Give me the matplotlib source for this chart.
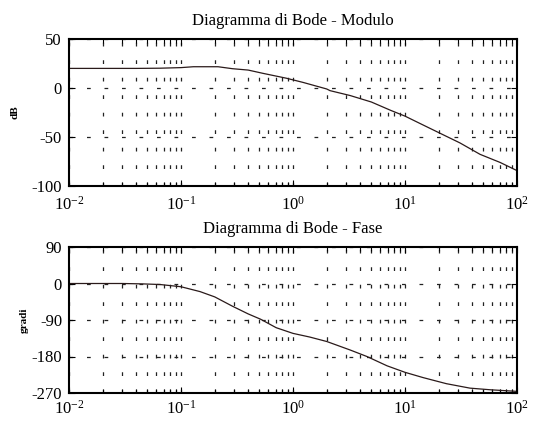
import numpy as np
import matplotlib
matplotlib.use("Agg")
import matplotlib.pyplot as plt
from matplotlib.ticker import LogLocator, FixedLocator, NullFormatter

plt.rcParams['font.family'] = ['Liberation Serif', 'DejaVu Serif']
plt.rcParams['mathtext.fontset'] = 'custom'
plt.rcParams['mathtext.rm'] = 'Liberation Serif'
plt.rcParams['mathtext.it'] = 'Liberation Serif'

# Magnitude data (frequency, dB)
mag_freq = [0.01, 0.02, 0.04, 0.065, 0.1, 0.129, 0.214, 0.288, 0.398, 0.537,
            0.871, 1.23, 2.0, 2.14, 3.24, 5.01, 7.41, 10.0, 13.5, 20.4,
            30.9, 46.8, 70.8, 100.0]
mag_db = [20.0, 20.0, 20.0, 20.2, 20.8, 21.7, 21.7, 19.7, 18.3, 15.0,
          10.0, 5.7, -1.0, -2.7, -7.7, -14.3, -22.7, -28.7, -36.0, -46.0,
          -56.0, -67.7, -76.0, -84.3]

# Phase data (frequency, degrees)
ph_freq = [0.01, 0.02, 0.03, 0.046, 0.065, 0.1, 0.148, 0.2, 0.288, 0.398,
           0.513, 0.708, 1.0, 1.41, 2.0, 3.24, 4.57, 6.92, 10.0, 14.5,
           23.4, 38.0, 57.5, 100.0]
ph_deg = [0.0, 0.0, 0.0, -1.0, -2.5, -8.0, -20.0, -33.0, -56.0, -75.0,
          -88.0, -109.0, -123.0, -132.0, -143.0, -164.0, -180.0, -203.0,
          -219.0, -232.0, -247.0, -258.0, -262.0, -266.0]

x_ticks = [0.01, 0.1, 1, 10, 100]
x_ticklabels = [r'$10^{-2}$', r'$10^{-1}$', r'$10^{0}$', r'$10^{1}$', r'$10^{2}$']
mag_yticks = [50, 0, -50, -100]
ph_yticks = [90, 0, -90, -180, -270]

W, H = 534, 421
fig = plt.figure(figsize=(W / 100, H / 100), dpi=100)

def box(l, t, r, b):
    return [l / W, 1 - b / H, (r - l) / W, (b - t) / H]

ax1 = fig.add_axes(box(69, 39, 517, 186))
ax2 = fig.add_axes(box(69, 247, 517, 393))

grid_style = dict(color='#222222', linewidth=0.9, linestyle=(0, (3, 11)))

def style(ax, yticks, title, ylabel, ylim, ylab_x, xpad):
    ax.set_xscale('log')
    ax.set_xlim(0.01, 100)
    ax.set_ylim(*ylim)
    ax.xaxis.set_major_locator(FixedLocator(x_ticks))
    ax.set_xticklabels(x_ticklabels)
    ax.xaxis.set_minor_locator(LogLocator(base=10, subs=np.arange(2, 10), numticks=20))
    ax.xaxis.set_minor_formatter(NullFormatter())
    ax.set_yticks(yticks)
    ax.set_yticklabels([str(v) for v in yticks])
    for s in ax.spines.values():
        s.set_linewidth(1.5)
    ax.tick_params(axis='both', which='both', direction='in', top=True, right=True,
                   labelsize=12, width=0.8)
    ax.tick_params(axis='both', which='major', length=4, pad=5)
    ax.tick_params(axis='x', which='minor', length=3)
    ax.tick_params(axis='x', which='major', pad=xpad)
    ax.grid(True, which='both', axis='x', **grid_style)
    ax.grid(True, which='major', axis='y', **grid_style)
    ax.set_title(title, fontsize=12, pad=10)
    ax.text(ylab_x, 0.5, ylabel, transform=ax.transAxes, rotation=90,
            ha='center', va='center', fontsize=8, fontweight='bold')

ax1.plot(mag_freq, mag_db, color='#2a1a1a', linewidth=0.9)
style(ax1, mag_yticks, 'Diagramma di Bode - Modulo', 'dB', (-100, 50), -0.12, 7)

ax2.plot(ph_freq, ph_deg, color='#2a1a1a', linewidth=0.9)
style(ax2, ph_yticks, 'Diagramma di Bode - Fase', 'gradi', (-270, 90), -0.10, 5)

fig.savefig('out.png', dpi=100)
